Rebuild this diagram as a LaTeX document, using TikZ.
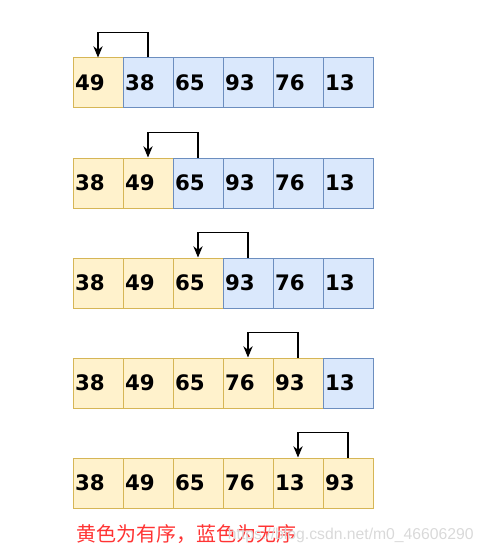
\documentclass[tikz,border=0pt]{standalone}
\usepackage{fontspec}
\setmainfont{DejaVu Sans}
\newfontfamily\cjkfont{Noto Sans CJK SC}
\newfontfamily\urlfont{Liberation Sans}
\usetikzlibrary{arrows.meta}
\definecolor{sortfill}{HTML}{FFF2CC}
\definecolor{sortline}{HTML}{D6B656}
\definecolor{restfill}{HTML}{DAE8FC}
\definecolor{restline}{HTML}{6C8EBF}
\definecolor{notered}{HTML}{FF3333}

\begin{document}
\begin{tikzpicture}[x=0.75pt, y=-0.75pt,
  cell/.style={minimum width=37.5pt, minimum height=37.5pt, inner xsep=1.5pt, text width=34.5pt,
    align=left, line width=0.75pt, font=\bfseries\fontsize{16}{16}\selectfont},
  sorted/.style={cell, fill=sortfill, draw=sortline},
  rest/.style={cell, fill=restfill, draw=restline},
  swap/.style={-{Stealth[length=8.5pt, width=7pt]}, line width=0.9pt}]
\useasboundingbox (0,0) rectangle (483,556);
% pass 1
\node[sorted] (r1c1) at (98,83) {49};
\node[rest] (r1c2) at (148,83) {38};
\node[rest] (r1c3) at (198,83) {65};
\node[rest] (r1c4) at (248,83) {93};
\node[rest] (r1c5) at (298,83) {76};
\node[rest] (r1c6) at (348,83) {13};
\draw[swap] (r1c2.north) -- ++(0,-25) -| (r1c1.north);
% pass 2
\node[sorted] (r2c1) at (98,183) {38};
\node[sorted] (r2c2) at (148,183) {49};
\node[rest] (r2c3) at (198,183) {65};
\node[rest] (r2c4) at (248,183) {93};
\node[rest] (r2c5) at (298,183) {76};
\node[rest] (r2c6) at (348,183) {13};
\draw[swap] (r2c3.north) -- ++(0,-25) -| (r2c2.north);
% pass 3
\node[sorted] (r3c1) at (98,283) {38};
\node[sorted] (r3c2) at (148,283) {49};
\node[sorted] (r3c3) at (198,283) {65};
\node[rest] (r3c4) at (248,283) {93};
\node[rest] (r3c5) at (298,283) {76};
\node[rest] (r3c6) at (348,283) {13};
\draw[swap] (r3c4.north) -- ++(0,-25) -| (r3c3.north);
% pass 4
\node[sorted] (r4c1) at (98,383) {38};
\node[sorted] (r4c2) at (148,383) {49};
\node[sorted] (r4c3) at (198,383) {65};
\node[sorted] (r4c4) at (248,383) {76};
\node[sorted] (r4c5) at (298,383) {93};
\node[rest] (r4c6) at (348,383) {13};
\draw[swap] (r4c5.north) -- ++(0,-25) -| (r4c4.north);
% pass 5
\node[sorted] (r5c1) at (98,483) {38};
\node[sorted] (r5c2) at (148,483) {49};
\node[sorted] (r5c3) at (198,483) {65};
\node[sorted] (r5c4) at (248,483) {76};
\node[sorted] (r5c5) at (298,483) {13};
\node[sorted] (r5c6) at (348,483) {93};
\draw[swap] (r5c6.north) -- ++(0,-25) -| (r5c5.north);
% legend and watermark
\node[notered, anchor=west, inner sep=0pt] (legend) at (76,534) {\cjkfont\fontsize{15}{15}\selectfont 黄色为有序，蓝色为无序};
\node[black!15, anchor=east, inner sep=0pt] (mark) at (474,535) {\urlfont\fontsize{11.8}{12}\selectfont https://blog.csdn.net/m0\_46606290};
\end{tikzpicture}
\end{document}
